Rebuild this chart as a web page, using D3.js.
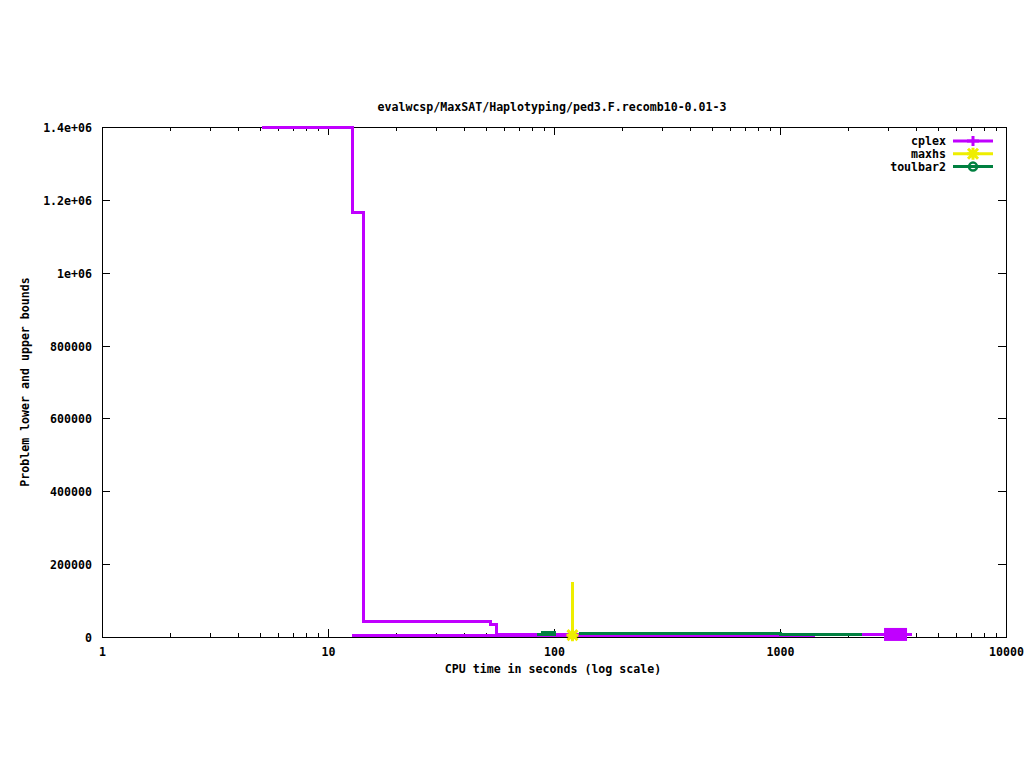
<!DOCTYPE html>
<html>
<head>
<meta charset="utf-8">
<script src="https://cdn.jsdelivr.net/npm/d3@7"></script>
<style>
  body { margin: 0; background: #fff; }
  svg text { font-family: "DejaVu Sans Mono", "Liberation Mono", monospace; font-weight: bold; font-size: 11.6px; fill: #000; }
</style>
</head>
<body>
<div id="chart"></div>
<script>
// data
const chartTitle = "evalwcsp/MaxSAT/Haplotyping/ped3.F.recomb10-0.01-3";
const xTicks = [1, 10, 100, 1000, 10000];
const xTickLabels = ["1", "10", "100", "1000", "10000"];
const yTicks = [0, 200000, 400000, 600000, 800000, 1000000, 1200000, 1400000];
const yTickLabels = ["0", "200000", "400000", "600000", "800000", "1e+06", "1.2e+06", "1.4e+06"];

const cplexUpper = [[5.1, 1400000], [12.9, 1164000], [14.3, 42500], [52.6, 33000], [55.4, 6000], [3840, 6000]];
const cplexLower = [[12.8, 4000], [1429, 4000]];
const cplexMarks = [[3245, 7000]];
const maxhsLine = [[120.7, 151000], [120.7, 5000]];
const maxhsMarks = [[120.7, 5000]];
const toulbarUpperA = [[87.6, 13000], [102, 13000]];
const toulbarLowerA = [[84, 8000], [102, 8000]];
const toulbarUpperB = [[129, 9600], [1000, 7400], [2307, 7400]];

const legendNames = ["cplex", "maxhs", "toulbar2"];
const colors = { cplex: "#c000ff", maxhs: "#eeee00", toulbar2: "#008040" };

const width = 1024, height = 768;
const margin = { top: 127, right: 18, bottom: 131, left: 102 };
const innerW = width - margin.left - margin.right;
const innerH = height - margin.top - margin.bottom;

const svg = d3.select("#chart").append("svg")
  .attr("width", width)
  .attr("height", height);

const x = d3.scaleLog().domain([1, 10000]).range([margin.left, margin.left + innerW]);
const y = d3.scaleLinear().domain([0, 1400000]).range([margin.top + innerH, margin.top]);

// title
svg.append("text")
  .attr("x", 552).attr("y", 111)
  .attr("text-anchor", "middle")
  .text(chartTitle);

// axis labels
svg.append("text")
  .attr("x", 553).attr("y", 673)
  .attr("text-anchor", "middle")
  .text("CPU time in seconds (log scale)");

svg.append("text")
  .attr("transform", `translate(29,382) rotate(-90)`)
  .attr("text-anchor", "middle")
  .text("Problem lower and upper bounds");

const x0 = margin.left, x1 = margin.left + innerW;
const y0 = margin.top + innerH, y1 = margin.top;
const ticks = svg.append("g").attr("stroke", "#000").attr("stroke-width", 1).attr("shape-rendering", "crispEdges");

// y ticks, left and mirrored right
yTicks.forEach((v, i) => {
  const yy = Math.round(y(v)) + 0.5;
  ticks.append("line").attr("x1", x0).attr("x2", x0 + 8).attr("y1", yy).attr("y2", yy);
  ticks.append("line").attr("x1", x1).attr("x2", x1 - 8).attr("y1", yy).attr("y2", yy);
  svg.append("text")
    .attr("x", 92).attr("y", yy + 4)
    .attr("text-anchor", "end")
    .text(yTickLabels[i]);
});

// x ticks, major and minor (log)
xTicks.forEach((v, i) => {
  const xx = Math.round(x(v)) + 0.5;
  ticks.append("line").attr("x1", xx).attr("x2", xx).attr("y1", y0).attr("y2", y0 - 8);
  ticks.append("line").attr("x1", xx).attr("x2", xx).attr("y1", y1).attr("y2", y1 + 8);
  svg.append("text")
    .attr("x", xx).attr("y", 656)
    .attr("text-anchor", "middle")
    .text(xTickLabels[i]);
  if (i < xTicks.length - 1) {
    for (let k = 2; k < 10; k++) {
      const mx = Math.round(x(v * k)) + 0.5;
      ticks.append("line").attr("x1", mx).attr("x2", mx).attr("y1", y0).attr("y2", y0 - 4);
      ticks.append("line").attr("x1", mx).attr("x2", mx).attr("y1", y1).attr("y2", y1 + 4);
    }
  }
});

// frame
svg.append("rect")
  .attr("x", x0 + 0.5).attr("y", y1 + 0.5)
  .attr("width", innerW).attr("height", innerH)
  .attr("fill", "none").attr("stroke", "#000").attr("stroke-width", 1)
  .attr("shape-rendering", "crispEdges");

const step = d3.line().x(d => x(d[0])).y(d => y(d[1])).curve(d3.curveStepAfter);
const plot = svg.append("g");

function drawLine(data, color) {
  plot.append("path")
    .attr("d", step(data))
    .attr("fill", "none")
    .attr("stroke", color)
    .attr("stroke-width", 3)
    .attr("stroke-linejoin", "miter")
    .attr("shape-rendering", "crispEdges");
}

function plusMark(g, cx, cy, color) {
  g.append("path")
    .attr("d", `M${cx - 6},${cy}H${cx + 6}M${cx},${cy - 5}V${cy + 5}`)
    .attr("stroke", color).attr("stroke-width", 3).attr("fill", "none");
}
function starMark(g, cx, cy, color) {
  g.append("path")
    .attr("d", `M${cx - 6},${cy}H${cx + 6}M${cx},${cy - 6}V${cy + 6}M${cx - 5},${cy - 5}L${cx + 5},${cy + 5}M${cx - 5},${cy + 5}L${cx + 5},${cy - 5}`)
    .attr("stroke", color).attr("stroke-width", 3).attr("fill", "none");
}
function circleMark(g, cx, cy, color) {
  g.append("circle")
    .attr("cx", cx).attr("cy", cy).attr("r", 4)
    .attr("stroke", color).attr("stroke-width", 2.5).attr("fill", "none");
}

// cplex
drawLine(cplexUpper, colors.cplex);
drawLine(cplexLower, colors.cplex);
plot.selectAll("rect.cplex")
  .data(cplexMarks)
  .join("rect")
  .attr("class", "cplex")
  .attr("x", d => x(d[0]) - 11.5)
  .attr("y", d => y(d[1]) - 6.5)
  .attr("width", 23).attr("height", 13)
  .attr("fill", colors.cplex);

// maxhs
drawLine(maxhsLine, colors.maxhs);
maxhsMarks.forEach(d => starMark(plot, x(d[0]), y(d[1]), colors.maxhs));

// toulbar2
drawLine(toulbarUpperA, colors.toulbar2);
drawLine(toulbarLowerA, colors.toulbar2);
drawLine(toulbarUpperB, colors.toulbar2);

// legend
const legend = svg.append("g");
legendNames.forEach((name, i) => {
  const ly = 141 + i * 12.8;
  legend.append("text")
    .attr("x", 946).attr("y", ly + 4)
    .attr("text-anchor", "end")
    .text(name);
  legend.append("line")
    .attr("x1", 953).attr("x2", 993).attr("y1", ly).attr("y2", ly)
    .attr("stroke", colors[name]).attr("stroke-width", 3);
  if (name === "cplex") plusMark(legend, 973, ly, colors[name]);
  if (name === "maxhs") starMark(legend, 973, ly, colors[name]);
  if (name === "toulbar2") circleMark(legend, 973, ly, colors[name]);
});
</script>
</body>
</html>
